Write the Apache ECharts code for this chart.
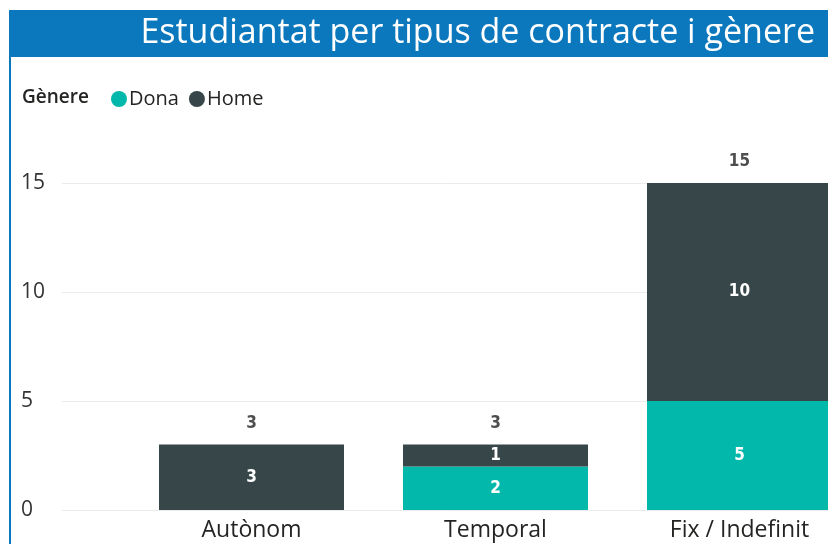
<!DOCTYPE html>
<html>
<head>
<meta charset="utf-8">
<script src="https://cdn.jsdelivr.net/npm/echarts@6/dist/echarts.min.js"></script>
<style>
  html, body { margin: 0; padding: 0; background: #fff; }
  #chart { width: 828px; height: 544px; }
</style>
</head>
<body>
<div id="chart"></div>
<script>
const categories = ['Autònom', 'Temporal', 'Fix / Indefinit']
const dona = [0, 2, 5]
const home = [3, 1, 10]
const totals = [3, 3, 15]
const yTicks = [0, 5, 10, 15]

const TEAL = '#01B8AA'
const DARK = '#374649'
const BLUE = '#0B78BE'
const FONT = '"Open Sans", "Noto Sans", sans-serif'
const NUM_FONT = '"DejaVu Sans Condensed", "DejaVu Sans", sans-serif'

const chart = echarts.init(document.getElementById('chart'))

const innerLabel = {
  show: true,
  position: 'inside',
  color: '#fff',
  fontFamily: NUM_FONT,
  fontWeight: 'bold',
  fontSize: 17,
  formatter: (p) => (p.value ? p.value : ''),
}

chart.setOption({
  animation: false,
  graphic: [
    { type: 'rect', shape: { x: 9, y: 10, width: 830, height: 47 }, style: { fill: BLUE } },
    { type: 'rect', shape: { x: 9, y: 57, width: 2, height: 500 }, style: { fill: BLUE } },
    {
      type: 'text', right: 13, top: 16,
      style: { text: 'Estudiantat per tipus de contracte i gènere', fill: '#fff', font: '34px ' + FONT },
    },
    {
      type: 'text', left: 22, top: 88,
      style: { text: 'Gènere', fill: '#252423', font: '600 19px ' + FONT },
    },
  ],
  legend: {
    data: ['Dona', 'Home'],
    left: 106,
    top: 84,
    icon: 'circle',
    itemWidth: 16,
    itemHeight: 16,
    itemGap: 10,
    textStyle: { color: '#252423', fontSize: 20, fontFamily: FONT, padding: [0, 0, 0, -3] },
  },
  grid: [
    { left: 62, width: 800, top: 183, bottom: 34, outerBoundsMode: 'none' },
    { left: 129.5, width: 732, top: 183, bottom: 34, outerBoundsMode: 'none' },
  ],
  xAxis: [
    { type: 'category', gridIndex: 0, data: categories, show: false },
    {
      type: 'category', gridIndex: 1, data: categories,
      axisLine: { show: false }, axisTick: { show: false },
      axisLabel: { color: '#252423', fontSize: 23, fontFamily: FONT, margin: 9 },
    },
  ],
  yAxis: [
    {
      type: 'value', gridIndex: 0, min: yTicks[0], max: yTicks[yTicks.length - 1], interval: 5,
      axisLine: { show: false }, axisTick: { show: false },
      axisLabel: { color: '#333', fontSize: 21, fontFamily: FONT, align: 'left', margin: 41 },
      splitLine: { lineStyle: { color: '#ebebeb', width: 1 } },
    },
    {
      type: 'value', gridIndex: 1, min: yTicks[0], max: yTicks[yTicks.length - 1], interval: 5,
      show: false, splitLine: { show: false },
    },
  ],
  series: [
    {
      name: 'Dona', type: 'bar', stack: 'g', xAxisIndex: 1, yAxisIndex: 1,
      data: dona, barWidth: 185, itemStyle: { color: TEAL }, label: innerLabel,
    },
    {
      name: 'Home', type: 'bar', stack: 'g', xAxisIndex: 1, yAxisIndex: 1,
      data: home, barWidth: 185, itemStyle: { color: DARK }, label: innerLabel,
    },
    {
      name: 'Total', type: 'scatter', xAxisIndex: 1, yAxisIndex: 1,
      data: totals, symbolSize: 0,
      label: {
        show: true, position: 'top', distance: 13,
        color: '#222', fontFamily: NUM_FONT, fontWeight: 'bold', fontSize: 17,
      },
    },
  ],
})
</script>
</body>
</html>
